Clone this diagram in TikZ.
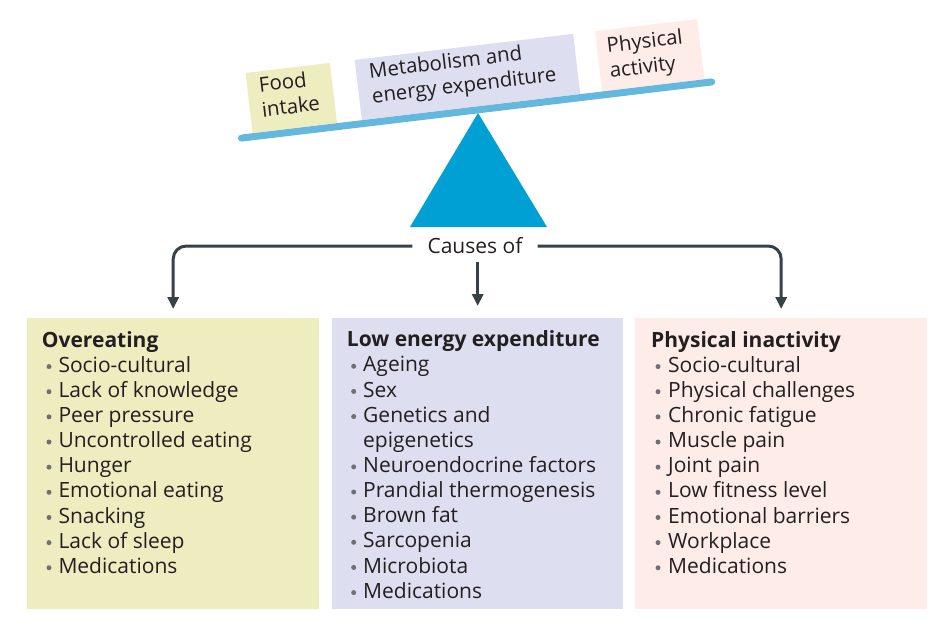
\documentclass[tikz,border=0pt]{standalone}
\usepackage{fontspec}
\setmainfont{Open Sans}
\usetikzlibrary{arrows.meta}
\definecolor{yel}{RGB}{238,237,192}
\definecolor{lav}{RGB}{221,222,240}
\definecolor{pnk}{RGB}{253,236,232}
\definecolor{tri}{RGB}{0,159,212}
\definecolor{beamc}{RGB}{100,184,221}
\definecolor{conc}{RGB}{55,66,72}
\definecolor{txt}{RGB}{35,31,32}
\definecolor{bul}{RGB}{110,112,115}
\begin{document}
\begin{tikzpicture}[x=1pt,y=-1pt,
  font=\fontsize{21}{25}\selectfont, text=txt,
  bigbox/.style={inner sep=0pt, anchor=north west, minimum width=292pt, minimum height=291pt},
  topbox/.style={inner sep=0pt, anchor=south west, minimum height=60.5pt, transform shape},
  toptext/.style={inner sep=0pt, anchor=west, align=left, transform shape, font=\fontsize{20.4}{25}\selectfont},
  item/.style={inner sep=0pt, anchor=base west},
  ttl/.style={item, font=\fontsize{21}{25}\selectfont\bfseries},
  conn/.style={draw=conc, line width=3pt, -{Triangle[length=12pt,width=11pt]}},
  beamline/.style={draw=beamc, line width=7pt, line cap=round}]
\useasboundingbox (0,0) rectangle (934,622);
% fulcrum
\fill[tri] (478,113) -- (547,227) -- (410,227) -- cycle;
% seesaw
\begin{scope}[shift={(238,138.5)}, rotate=6.81]
  \node[topbox, fill=yel, minimum width=85pt] (food) at (15,-3.5) {};
  \node[topbox, fill=lav, minimum width=220pt] (metab) at (125,-3.5) {};
  \node[topbox, fill=pnk, minimum width=103pt] (pact) at (367,-3.5) {};
  \node[toptext] (foodt) at (27,-38.5) {Food\\intake};
  \node[toptext] (metabt) at (138,-37) {Metabolism and\\energy expenditure};
  \node[toptext] (pactt) at (377,-34) {Physical\\activity};
  \draw[beamline] (3.5,0) -- (477,0);
\end{scope}
% boxes
\node[bigbox, fill=yel] (over) at (27,318) {};
\node[bigbox, fill=lav, minimum width=291pt] (low) at (332,318) {};
\node[bigbox, fill=pnk] (inact) at (635,318) {};
% causes
\node[inner xsep=15pt, inner ysep=0pt, minimum height=32pt] (causes) at (475,246) {Causes of};
\draw[conn, rounded corners=13pt, shorten >=9pt] (causes.west) -| (over.north);
\draw[conn, rounded corners=13pt, shorten >=9pt] (causes.east) -| (inact.north);
\draw[conn, shorten >=12pt] (causes.south -| low.north) -- (low.north);
% left list
\node[ttl] (overt) at (41.7,347) {Overeating};
\foreach \t [count=\i] in {Socio-cultural,Lack of knowledge,Peer pressure,Uncontrolled eating,Hunger,Emotional eating,Snacking,Lack of sleep,Medications}{
  \node[item] (o\i) at (58.3,{347+25.15*\i}) {\t};
  \fill[bul] (49,{347+25.15*\i-5.6}) circle (2.5pt);
}
% middle list
\node[ttl] (lowt) at (346.7,346.7) {Low energy expenditure};
\foreach \t/\b [count=\i] in {Ageing/1,Sex/1,Genetics and/1,epigenetics/0,Neuroendocrine factors/1,Prandial thermogenesis/1,Brown fat/1,Sarcopenia/1,Microbiota/1,Medications/1}{
  \node[item] (l\i) at (363,{346.7+25.15*\i}) {\t};
  \ifnum\b=1 \fill[bul] (353.7,{346.7+25.15*\i-5.6}) circle (2.5pt);\fi
}
% right list
\node[ttl] (inactt) at (651,347) {Physical inactivity};
\foreach \t [count=\i] in {Socio-cultural,Physical challenges,Chronic fatigue,Muscle pain,Joint pain,Low fitness level,Emotional barriers,Workplace,Medications}{
  \node[item] (p\i) at (668,{347+25.15*\i}) {\t};
  \fill[bul] (658,{347+25.15*\i-5.6}) circle (2.5pt);
}
\end{tikzpicture}
\end{document}
